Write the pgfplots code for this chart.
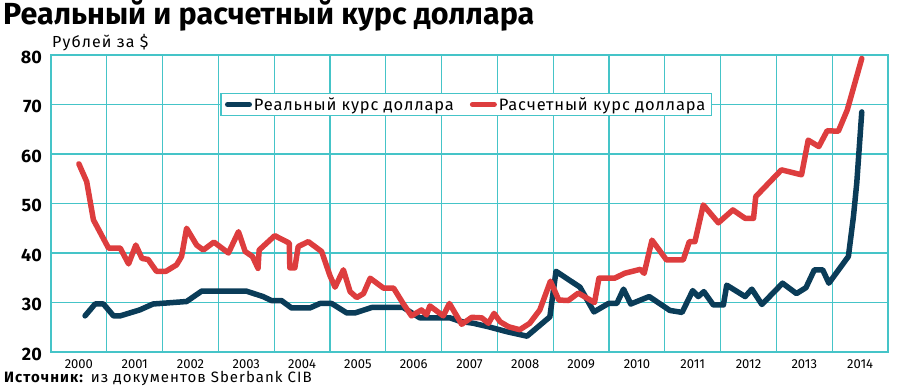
\documentclass[border=0pt]{standalone}
\usepackage{fontspec}
\setmainfont{Fira Sans}
\newfontfamily\lsfont{Fira Sans}[LetterSpace=7]
\newfontfamily\lsfontb{Fira Sans}[LetterSpace=5]
\usepackage{pgfplots}
\pgfplotsset{compat=1.18}
\definecolor{rblue}{HTML}{0A3C58}
\definecolor{rred}{HTML}{DD3D3E}
\definecolor{gridc}{HTML}{45C4C8}
\begin{document}
\begin{tikzpicture}
\useasboundingbox (0pt,0pt) rectangle (900pt,391pt);
\node[anchor=base west, inner sep=0pt, font=\bfseries\fontsize{30.5}{30.5}\selectfont] at (3pt,366pt) {Реальный и расчетный курс доллара};
\node[anchor=base west, inner sep=0pt, font=\lsfont\fontsize{16}{16}\selectfont] at (52pt,343pt) {Рублей за \$};
\node[anchor=base west, inner sep=0pt, font=\lsfont\fontsize{15}{15}\selectfont] at (4pt,9pt) {\textbf{Источник:} из документов Sberbank CIB};
\begin{axis}[
  at={(51pt,39pt)}, anchor=south west,
  scale only axis, width=837pt, height=297pt,
  xmin=1999.5, xmax=2014.5, ymin=20, ymax=80,
  xtick={2000,2001,...,2014},
  xticklabels={2000,2001,2002,2003,2004,2005,2006,2007,2008,2009,2010,2011,2012,2013,2014},
  minor xtick={2000.5,2001.5,2002.5,2003.5,2004.5,2005.5,2006.5,2007.5,2008.5,2009.5,2010.5,2011.5,2012.5,2013.5},
  ytick={20,30,...,80},
  xminorgrids=true, xmajorgrids=false, ymajorgrids=true,
  minor grid style={draw=gridc, line width=1.3pt},
  major grid style={draw=gridc, line width=1.3pt},
  axis line style={draw=gridc, line width=1.6pt},
  tick style={draw=none},
  /pgf/number format/assume math mode=true,
  /pgf/number format/1000 sep={},
  yticklabel style={font=\bfseries\fontsize{18}{18}\selectfont, anchor=east, inner sep=0pt, xshift=-9pt, yshift=-2pt},
  xticklabel style={font=\fontsize{13}{13}\selectfont, anchor=north, inner sep=0pt, yshift=-7pt},
  clip=false,
  legend columns=2,
  legend style={at={(axis cs:2006.94,70)}, anchor=center, draw=gridc, line width=1.3pt, fill=white,
    font=\lsfontb\fontsize{16.5}{16.5}\selectfont, inner xsep=4pt, inner ysep=2pt,
    /tikz/every even column/.append style={column sep=14pt}},
  legend image code/.code={\draw[#1, line width=5pt, line cap=round] (0pt,0pt) -- (22pt,0pt);},
]
\addplot[rblue, line width=5.5pt, line join=round, line cap=round] coordinates {
(2000.11,27.3) (2000.29,29.7) (2000.44,29.7) (2000.62,27.3) (2000.74,27.3) (2001.09,28.5)
(2001.33,29.7) (2001.93,30.2) (2002.20,32.3) (2003.00,32.3) (2003.30,31.2) (2003.45,30.4)
(2003.63,30.4) (2003.81,28.9) (2004.14,28.9) (2004.32,29.8) (2004.53,29.8) (2004.80,27.9)
(2004.95,27.9) (2005.25,29.0) (2005.81,29.0) (2006.11,26.9) (2006.65,26.9) (2006.83,26.2)
(2007.07,25.8) (2007.34,25.1) (2007.67,24.1) (2008.03,23.2) (2008.44,27.1) (2008.55,36.3)
(2008.98,33.1) (2009.23,28.1) (2009.49,29.8) (2009.64,29.8) (2009.76,32.7) (2009.89,29.7)
(2010.22,31.2) (2010.59,28.4) (2010.81,28.0) (2011.00,32.4) (2011.10,31.2) (2011.20,32.2)
(2011.37,29.5) (2011.55,29.5) (2011.61,33.5) (2011.94,31.2) (2012.06,32.7) (2012.24,29.6)
(2012.61,33.9) (2012.86,31.8) (2013.03,33.0) (2013.18,36.6) (2013.33,36.6) (2013.44,33.9)
(2013.79,39.3) (2013.88,47.3) (2013.94,54.1) (2014.03,68.5)
};
\addlegendentry{Реальный курс доллара}
\addplot[rred, line width=5.5pt, line join=round, line cap=round] coordinates {
(2000.00,58.0) (2000.14,54.4) (2000.26,46.7) (2000.53,41.0) (2000.74,41.0) (2000.89,37.8)
(2001.02,41.6) (2001.13,38.9) (2001.24,38.7) (2001.39,36.3) (2001.56,36.3) (2001.75,37.6)
(2001.84,39.3) (2001.93,45.0) (2002.11,41.6) (2002.23,40.6) (2002.42,42.2) (2002.68,40.0)
(2002.86,44.3) (2002.98,40.3) (2003.11,39.3) (2003.21,36.9) (2003.23,40.6) (2003.51,43.5)
(2003.77,42.0) (2003.78,37.0) (2003.87,37.0) (2003.93,41.3) (2004.11,42.3) (2004.35,40.3)
(2004.50,35.4) (2004.59,33.1) (2004.74,36.6) (2004.86,32.2) (2004.98,31.0) (2005.10,31.8)
(2005.22,34.9) (2005.46,32.9) (2005.64,32.9) (2005.81,29.8) (2005.96,27.3) (2006.14,28.5)
(2006.23,27.5) (2006.29,29.3) (2006.53,27.3) (2006.64,29.8) (2006.86,25.6) (2007.04,27.0)
(2007.22,26.9) (2007.34,25.8) (2007.44,27.8) (2007.55,26.1) (2007.70,25.1) (2007.90,24.5)
(2008.08,25.8) (2008.26,28.5) (2008.45,34.3) (2008.60,30.5) (2008.77,30.4) (2008.95,31.9)
(2009.24,30.0) (2009.32,34.9) (2009.60,34.9) (2009.78,35.9) (2010.06,36.7) (2010.13,35.9)
(2010.27,42.6) (2010.53,38.6) (2010.83,38.6) (2010.94,42.3) (2011.04,42.3) (2011.19,49.7)
(2011.46,46.1) (2011.72,48.7) (2011.94,47.0) (2012.09,47.0) (2012.13,51.4) (2012.59,56.8)
(2012.95,55.8) (2013.07,62.8) (2013.26,61.5) (2013.41,64.7) (2013.61,64.6) (2013.77,68.9)
(2014.03,79.3)
};
\addlegendentry{Расчетный курс доллара}
\end{axis}
\end{tikzpicture}
\end{document}
